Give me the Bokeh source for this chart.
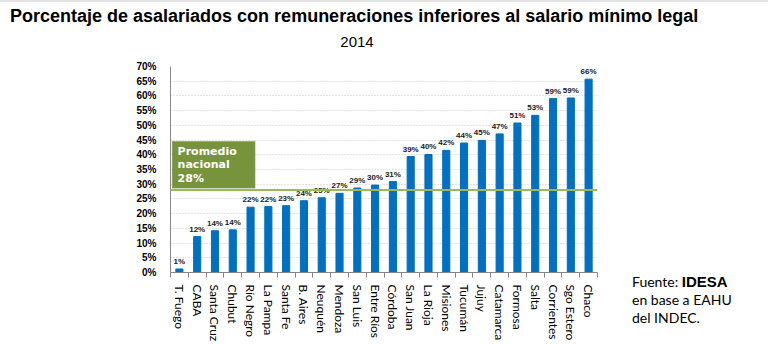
from bokeh.plotting import figure
from bokeh.models import (ColumnDataSource, FixedTicker, PrintfTickFormatter,
                          Span, BoxAnnotation, Label, Div)
from bokeh.layouts import column, row
from bokeh.core.properties import value
from bokeh.embed import file_html
from bokeh.resources import INLINE

provinces = ["T. Fuego", "CABA", "Santa Cruz", "Chubut", "Río Negro", "La Pampa",
             "Santa Fe", "B. Aires", "Neuquén", "Mendoza", "San Luis", "Entre Ríos",
             "Córdoba", "San Juan", "La Rioja", "Misiones", "Tucumán", "Jujuy",
             "Catamarca", "Formosa", "Salta", "Corrientes", "Sgo Estero", "Chaco"]
values = [1.2, 12.2, 14.2, 14.5, 22.2, 22.4, 22.7, 24.4, 25.4, 26.9, 28.7, 29.7,
          30.9, 39.4, 40.1, 41.5, 44.0, 44.9, 47.1, 50.8, 53.4, 59.1, 59.3, 65.7]
value_labels = ["1%", "12%", "14%", "14%", "22%", "22%", "23%", "24%", "25%", "27%",
                "29%", "30%", "31%", "39%", "40%", "42%", "44%", "45%", "47%", "51%",
                "53%", "59%", "59%", "66%"]
national_average = 28
y_ticks = [0, 5, 10, 15, 20, 25, 30, 35, 40, 45, 50, 55, 60, 65, 70]

title_text = "Porcentaje de asalariados con remuneraciones inferiores al salario mínimo legal"
subtitle_text = "2014"

W, H = 768, 344
TOP = 60          # height of the title strip
PW = 630          # width of the figure (note panel to its right)
FL, FR, FT, FB = 170, 597, 66, 272  # frame edges in page pixels

xs = list(range(len(provinces)))
src = ColumnDataSource(dict(x=xs, v=values, lab=value_labels))

p = figure(width=PW, height=H - TOP, output_backend="svg", toolbar_location=None,
           x_range=(-0.5, len(provinces) - 0.5), y_range=(0, 70),
           min_border_left=FL, min_border_right=PW - FR,
           min_border_top=FT - TOP, min_border_bottom=H - FB, margin=0)
p.outline_line_color = None
p.background_fill_color = "white"
p.border_fill_color = "white"

# grid
p.xgrid.grid_line_color = None
p.ygrid.grid_line_color = "#C8C8C8"
p.ygrid.grid_line_dash = "1 2"
p.ygrid.grid_line_width = 1

# y axis
p.yaxis.ticker = FixedTicker(ticks=y_ticks)
p.yaxis.formatter = PrintfTickFormatter(format="%d%%")
p.yaxis.major_label_text_font = "Liberation Sans"
p.yaxis.major_label_text_font_style = "bold"
p.yaxis.major_label_text_font_size = "10px"
p.yaxis.major_label_text_color = "black"
p.yaxis.axis_line_color = "#868686"
p.yaxis.major_tick_line_color = None
p.yaxis.minor_tick_line_color = None
p.yaxis.major_label_standoff = 8

# x axis
p.xaxis.ticker = FixedTicker(ticks=xs, minor_ticks=[i - 0.5 for i in range(len(provinces) + 1)])
p.xaxis.major_label_overrides = {i: name for i, name in enumerate(provinces)}
p.xaxis.major_label_orientation = "vertical"
p.xaxis.major_label_text_font = "Lato"
p.xaxis.major_label_text_font_size = "12px"
p.xaxis.major_label_text_color = "black"
p.xaxis.axis_line_color = "#868686"
p.xaxis.major_tick_line_color = None
p.xaxis.minor_tick_line_color = "#868686"
p.xaxis.minor_tick_in = 0
p.xaxis.minor_tick_out = 5
p.xaxis.major_label_standoff = 6

# bars
p.vbar(x="x", top="v", width=0.4, source=src, color="#0070C0")
p.text(x="x", y="v", text="lab", source=src, text_align="center",
       text_baseline="bottom", y_offset=-3, text_font=value("Liberation Sans"),
       text_font_style="bold", text_font_size="8px", text_color="#222222")

# national average line
p.add_layout(Span(location=national_average, dimension="width",
                  line_color="#9BBB59", line_width=2))

# green box
p.add_layout(BoxAnnotation(left=-0.41, right=4.26, bottom=28.6, top=44.6,
                           fill_color="#77933C", fill_alpha=1.0, line_color="#A6BE7A",
                           line_width=1, level="annotation"))
for txt, yy in [("Promedio", 41.0), ("nacional", 36.7), ("28%", 32.1)]:
    p.add_layout(Label(x=-0.1, y=yy, text=txt, text_baseline="middle",
                       text_font="DejaVu Sans", text_font_style="bold",
                       text_font_size="11px", text_color="white", level="overlay"))

span_base = "position:absolute; white-space:nowrap; color:black; margin:0; padding:0;"
top_html = (
    f'<div style="position:relative; width:{W}px; height:{TOP}px;">'
    f'<div style="position:absolute; left:0; top:0; width:{W}px; height:2px; background:#E3E3E3;"></div>'
    f'<span style="{span_base} left:10px; top:7px; font-family:\'Liberation Sans\'; '
    f'font-weight:bold; font-size:18px; line-height:18px;">{title_text}</span>'
    f'<span style="{span_base} left:307px; width:100px; text-align:center; top:34px; '
    f'font-family:\'Liberation Sans\'; font-size:15px; line-height:15px;">{subtitle_text}</span>'
    '</div>'
)
top_div = Div(text=top_html, width=W, height=TOP, margin=0)

note_lines_top = [215, 233, 251]
note_html = (
    f'<div style="position:relative; width:{W - PW}px; height:{H - TOP}px;">'
    f'<span style="{span_base} left:2px; top:{note_lines_top[0]}px; font-family:Lato; '
    f'font-size:14px; line-height:14px;">Fuente: <b style="font-family:\'Liberation Sans\'; '
    f'font-size:15px;">IDESA</b></span>'
    f'<span style="{span_base} left:2px; top:{note_lines_top[1]}px; font-family:Lato; '
    f'font-size:14px; line-height:14px;">en base a EAHU</span>'
    f'<span style="{span_base} left:2px; top:{note_lines_top[2]}px; font-family:Lato; '
    f'font-size:14px; line-height:14px;">del INDEC.</span>'
    '</div>'
)
note_div = Div(text=note_html, width=W - PW, height=H - TOP, margin=0)

layout = column(top_div, row(p, note_div, spacing=0, margin=0), spacing=0, margin=0)

open("out.html", "w").write(file_html(layout, INLINE))
